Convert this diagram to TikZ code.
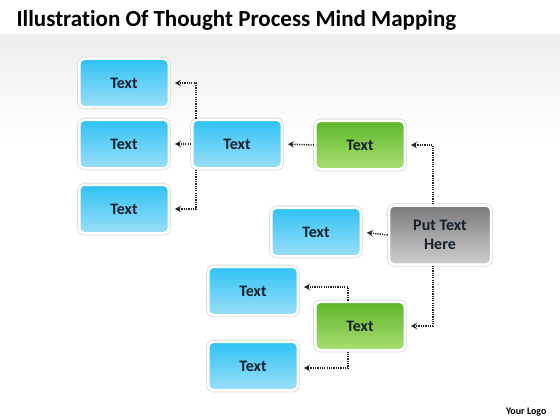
\documentclass[tikz,border=0pt]{standalone}
\usepackage{fontspec}
\setmainfont{Carlito}[Ligatures=NoCommon]
\usetikzlibrary{arrows.meta,calc}
\definecolor{bluetop}{HTML}{2FC2F5}
\definecolor{bluebot}{HTML}{9BDFF8}
\definecolor{greentop}{HTML}{5BB72A}
\definecolor{greenbot}{HTML}{ACDE74}
\definecolor{graytop}{HTML}{7A7A7A}
\definecolor{graybot}{HTML}{CFCFCF}
\definecolor{txt}{HTML}{15202B}
\tikzset{
  x=1pt, y=-1pt,
  boxbase/.style={rounded corners=5pt, draw=white, line width=2.5pt,
    preaction={draw=black!14, line width=4.2pt},
    minimum width=89.5pt, minimum height=48.5pt, inner sep=2pt,
    font=\bfseries\fontsize{16}{18.5}\selectfont, text=txt, align=center},
  bluebox/.style={boxbase, top color=bluetop, bottom color=bluebot},
  greenbox/.style={boxbase, top color=greentop, bottom color=greenbot},
  graybox/.style={boxbase, top color=graytop, bottom color=graybot,
    minimum width=102pt, minimum height=59pt},
  conn/.style={black!85, line width=1.5pt, dash pattern=on 1.2pt off 1.1pt,
    -{Stealth[length=6pt,width=6.5pt,inset=2.2pt]}, shorten >=5pt}
}
\begin{document}
\begin{tikzpicture}
\useasboundingbox (0,0) rectangle (560,420);
\fill[white] (0,0) rectangle (560,420);
\shade[top color=black!7, bottom color=white] (0,34) rectangle (560,140);
\fill[white] (0,0) rectangle (560,34);
\node[anchor=base west, font=\bfseries\fontsize{23}{26}\selectfont] (title) at (13,27) {Illustration Of Thought Process Mind Mapping};
\node[anchor=base east, font=\bfseries\fontsize{10}{12}\selectfont] (logo) at (550,414) {Your Logo};

\node[bluebox] (b1) at (124,83) {Text};
\node[bluebox] (b2) at (124,144) {Text};
\node[bluebox] (b3) at (124,209) {Text};
\node[bluebox] (mid) at (237,144) {Text};
\node[greenbox] (g1) at (360,145) {Text};
\node[graybox] (gr) at (440,235) {Put Text\\Here};
\node[bluebox] (b4) at (316,232) {Text};
\node[bluebox] (b5) at (253,291) {Text};
\node[greenbox] (g2) at (360,326) {Text};
\node[bluebox] (b6) at (253,366) {Text};

\draw[conn] ([xshift=5pt]mid.north west) |- (b1.east);
\draw[conn] (mid.west) -- (b2.east);
\draw[conn] ([xshift=5pt]mid.south west) |- (b3.east);
\draw[conn] (g1.west) -- (mid.east);
\draw[conn] ([xshift=-7pt]gr.north) |- (g1.east);
\draw[conn] (gr.west) -- (b4.east);
\draw[conn] ([xshift=-7pt]gr.south) |- (g2.east);
\draw[conn] ([xshift=-12pt]g2.north) |- ([yshift=4pt]b5.east);
\draw[conn] ([xshift=-12pt]g2.south) |- ([yshift=-2pt]b6.east);
\end{tikzpicture}
\end{document}
